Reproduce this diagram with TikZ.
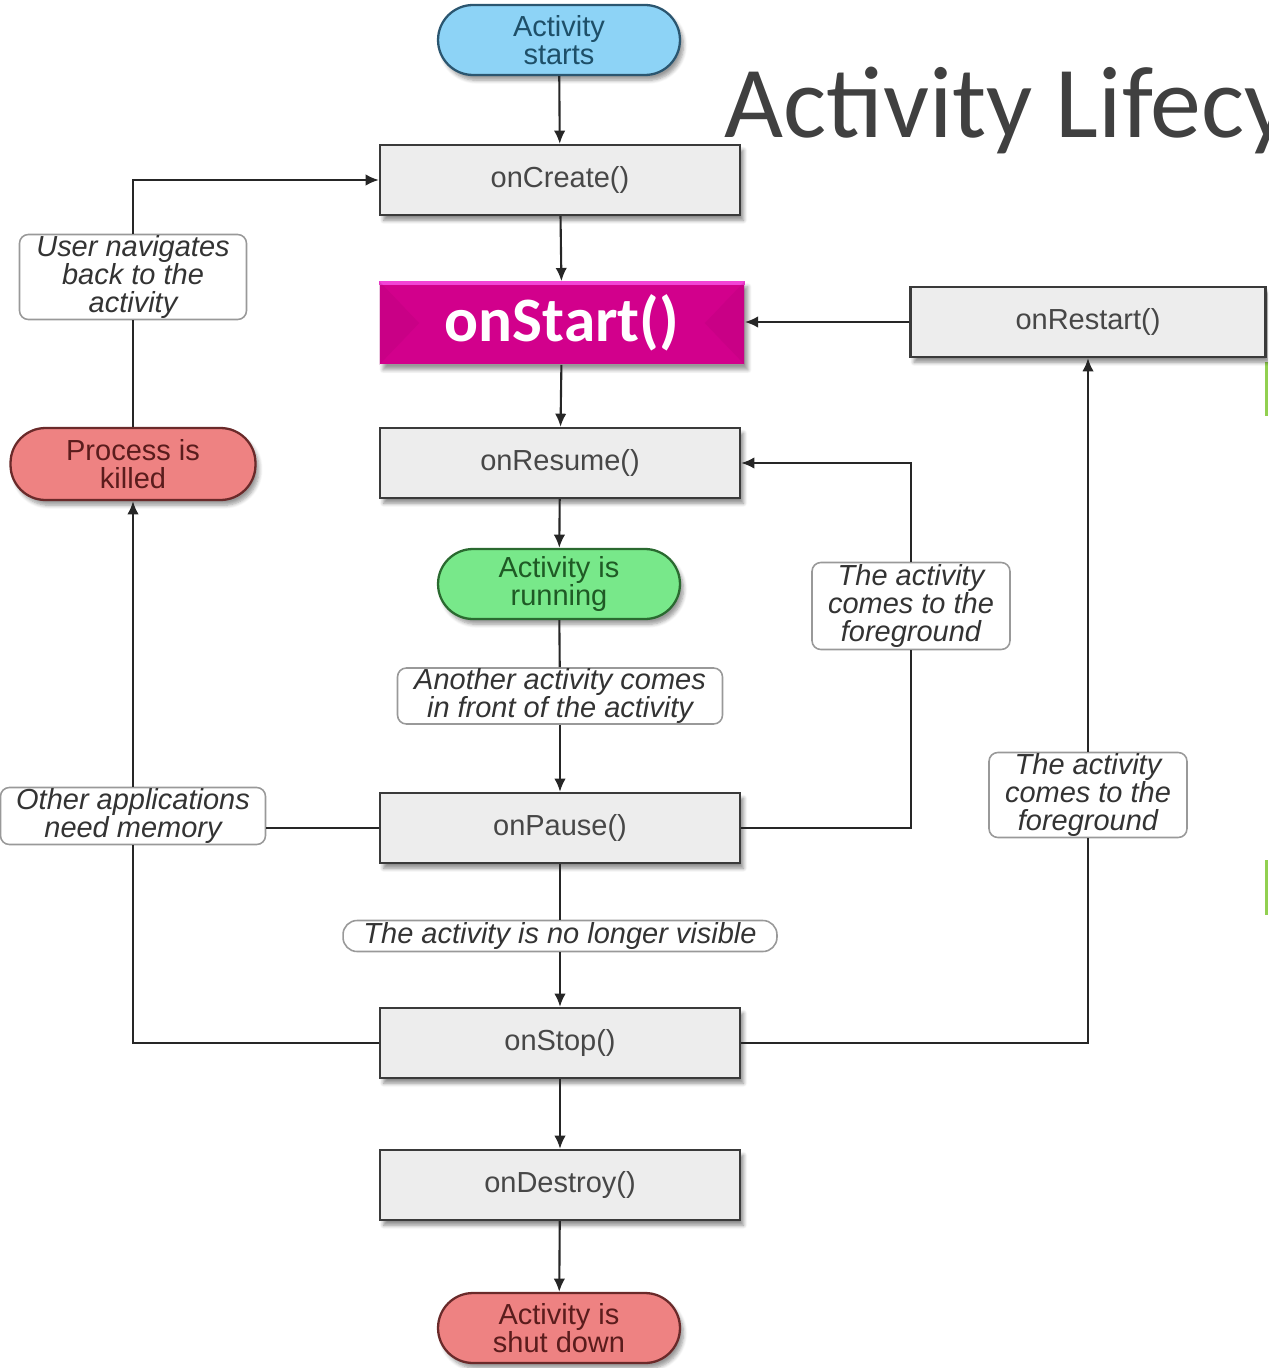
\documentclass[tikz,border=0pt]{standalone}
\usepackage{fontspec}
\setmainfont{Liberation Sans}
\newfontfamily\calib{Carlito}
\usetikzlibrary{arrows.meta,shadows.blur}

\definecolor{boxfill}{HTML}{EDEDED}
\definecolor{boxline}{HTML}{3A3A3A}
\definecolor{boxtext}{HTML}{474747}
\definecolor{bluefill}{HTML}{8DD3F6}
\definecolor{blueline}{HTML}{2B5670}
\definecolor{bluetext}{HTML}{1E4F68}
\definecolor{greenfill}{HTML}{78E88A}
\definecolor{greenline}{HTML}{2A6A30}
\definecolor{greentext}{HTML}{1F5A25}
\definecolor{redfill}{HTML}{EE8282}
\definecolor{redline}{HTML}{6A2A2A}
\definecolor{redtext}{HTML}{5A1C1C}
\definecolor{magfill}{HTML}{D2008C}
\definecolor{magtop}{HTML}{F244D6}
\definecolor{titlegray}{HTML}{404040}
\definecolor{slidegreen}{HTML}{92D050}

\tikzset{
  base/.style={font=\fontsize{16.5}{16}\selectfont, align=center, inner sep=0pt},
  methodbox/.style={base, rectangle, draw=boxline, line width=1.3pt, fill=boxfill,
    text=boxtext, minimum width=7.2cm, minimum height=1.4cm,
    blur shadow={shadow xshift=2pt, shadow yshift=-3pt, shadow blur steps=6, shadow opacity=45}},
  pill/.style={base, rectangle, rounded corners=0.7cm, line width=1.3pt,
    minimum width=4.84cm, minimum height=1.4cm,
    blur shadow={shadow xshift=2pt, shadow yshift=-3pt, shadow blur steps=6, shadow opacity=40}},
  bluepill/.style={pill, draw=blueline, fill=bluefill, text=bluetext},
  greenpill/.style={pill, draw=greenline, fill=greenfill, text=greentext},
  redpill/.style={pill, draw=redline, fill=redfill, text=redtext},
  note/.style={base, rectangle, rounded corners=5pt, draw=black!40, line width=0.9pt,
    fill=white, text=black!80, font=\fontsize{16.5}{16}\selectfont\itshape},
  flow/.style={line width=1.2pt, draw=black!85},
  arr/.style={flow, -{Latex[length=7.5pt,width=6.5pt]}},
}

\begin{document}
\begin{tikzpicture}[x=0.02cm, y=-0.02cm]
\useasboundingbox (0,0) rectangle (1268,1368);
\begin{scope}
\clip (0,0) rectangle (1268,1368);

% slide title, running off the right edge of the slide
\node[anchor=base west, inner sep=0pt, text=titlegray,
      font=\calib\fontsize{58}{60}\selectfont] (title) at (724,138) {Activity Lifecycle};

% slide accent bars at the right edge
\fill[slidegreen] (1265,362) rectangle (1268,416);
\fill[slidegreen] (1265,860) rectangle (1268,915);

% lifecycle states
\node[bluepill] (start) at (559,40) {Activity\\starts};
\node[methodbox] (create) at (560,180) {onCreate()};
\node[rectangle, minimum width=7.3cm, minimum height=1.66cm, fill=magfill, inner sep=0pt,
      text=white, font=\calib\bfseries\fontsize{36}{38}\selectfont,
      blur shadow={shadow xshift=2pt, shadow yshift=-3pt, shadow blur steps=6, shadow opacity=40}]
      (onstart) at (562,323) {onStart()};
\node[methodbox, minimum width=7.1cm] (restart) at (1088,322) {onRestart()};
\node[methodbox] (resume) at (560,463) {onResume()};
\node[greenpill] (running) at (559,584) {Activity is\\running};
\node[methodbox] (pause) at (560,828) {onPause()};
\node[methodbox] (stop) at (560,1043) {onStop()};
\node[methodbox] (destroy) at (560,1185) {onDestroy()};
\node[redpill] (shutdown) at (559,1328) {Activity is\\shut down};
\node[redpill, minimum width=4.9cm, minimum height=1.44cm] (killed) at (133,464) {Process is\\killed};

% bevel on onStart(): light top edge, slightly darker end wedges
\draw[magtop, line width=2pt] ([yshift=-1pt]onstart.north west) -- ([yshift=-1pt]onstart.north east);
\fill[magfill!80!black, opacity=0.2] (onstart.north west) -- ++(40,42) -- (onstart.south west) -- cycle;
\fill[magfill!80!black, opacity=0.2] (onstart.north east) -- ++(-40,42) -- (onstart.south east) -- cycle;

% transition notes
\node[note, minimum width=4.54cm, minimum height=1.7cm] (user) at (133,277) {User navigates\\back to the\\activity};
\node[note, minimum width=5.3cm, minimum height=1.14cm] (mem) at (133,816) {Other applications\\need memory};
\node[note, minimum width=6.5cm, minimum height=1.12cm] (front) at (560,696) {Another activity comes\\in front of the activity};
\node[note, minimum width=3.96cm, minimum height=1.74cm] (fgone) at (911,606) {The activity\\comes to the\\foreground};
\node[note, minimum width=3.96cm, minimum height=1.7cm] (fgtwo) at (1088,795) {The activity\\comes to the\\foreground};
\node[note, rounded corners=8pt, minimum width=8.68cm, minimum height=0.62cm] (visible) at (560,936) {The activity is no longer visible};

% main sequence
\draw[arr] (start) -- (create);
\draw[arr] (create) -- (onstart);
\draw[arr] (onstart) -- (resume);
\draw[arr] (resume) -- (running);
\draw[flow] (running) -- (front);
\draw[arr] (front) -- (pause);
\draw[flow] (pause) -- (visible);
\draw[arr] (visible) -- (stop);
\draw[arr] (stop) -- (destroy);
\draw[arr] (destroy) -- (shutdown);

% restart path
\draw[arr] (restart.west) -- (restart.west -| onstart.east);
\draw[flow] (stop.east) -| (fgtwo.south);
\draw[arr] (fgtwo.north) -- (restart.south);

% resume path
\draw[flow] (pause.east) -| (fgone.south);
\draw[arr] (fgone.north) |- (resume.east);

% process killed path
\draw[flow] (pause.west) -- (pause.west -| mem.east);
\draw[flow] (stop.west) -| (mem.south);
\draw[arr] (mem.north) -- (killed.south);
\draw[flow] (killed.north) -- (user.south);
\draw[arr] (user.north) |- (create.west);
\end{scope}
\end{tikzpicture}
\end{document}
